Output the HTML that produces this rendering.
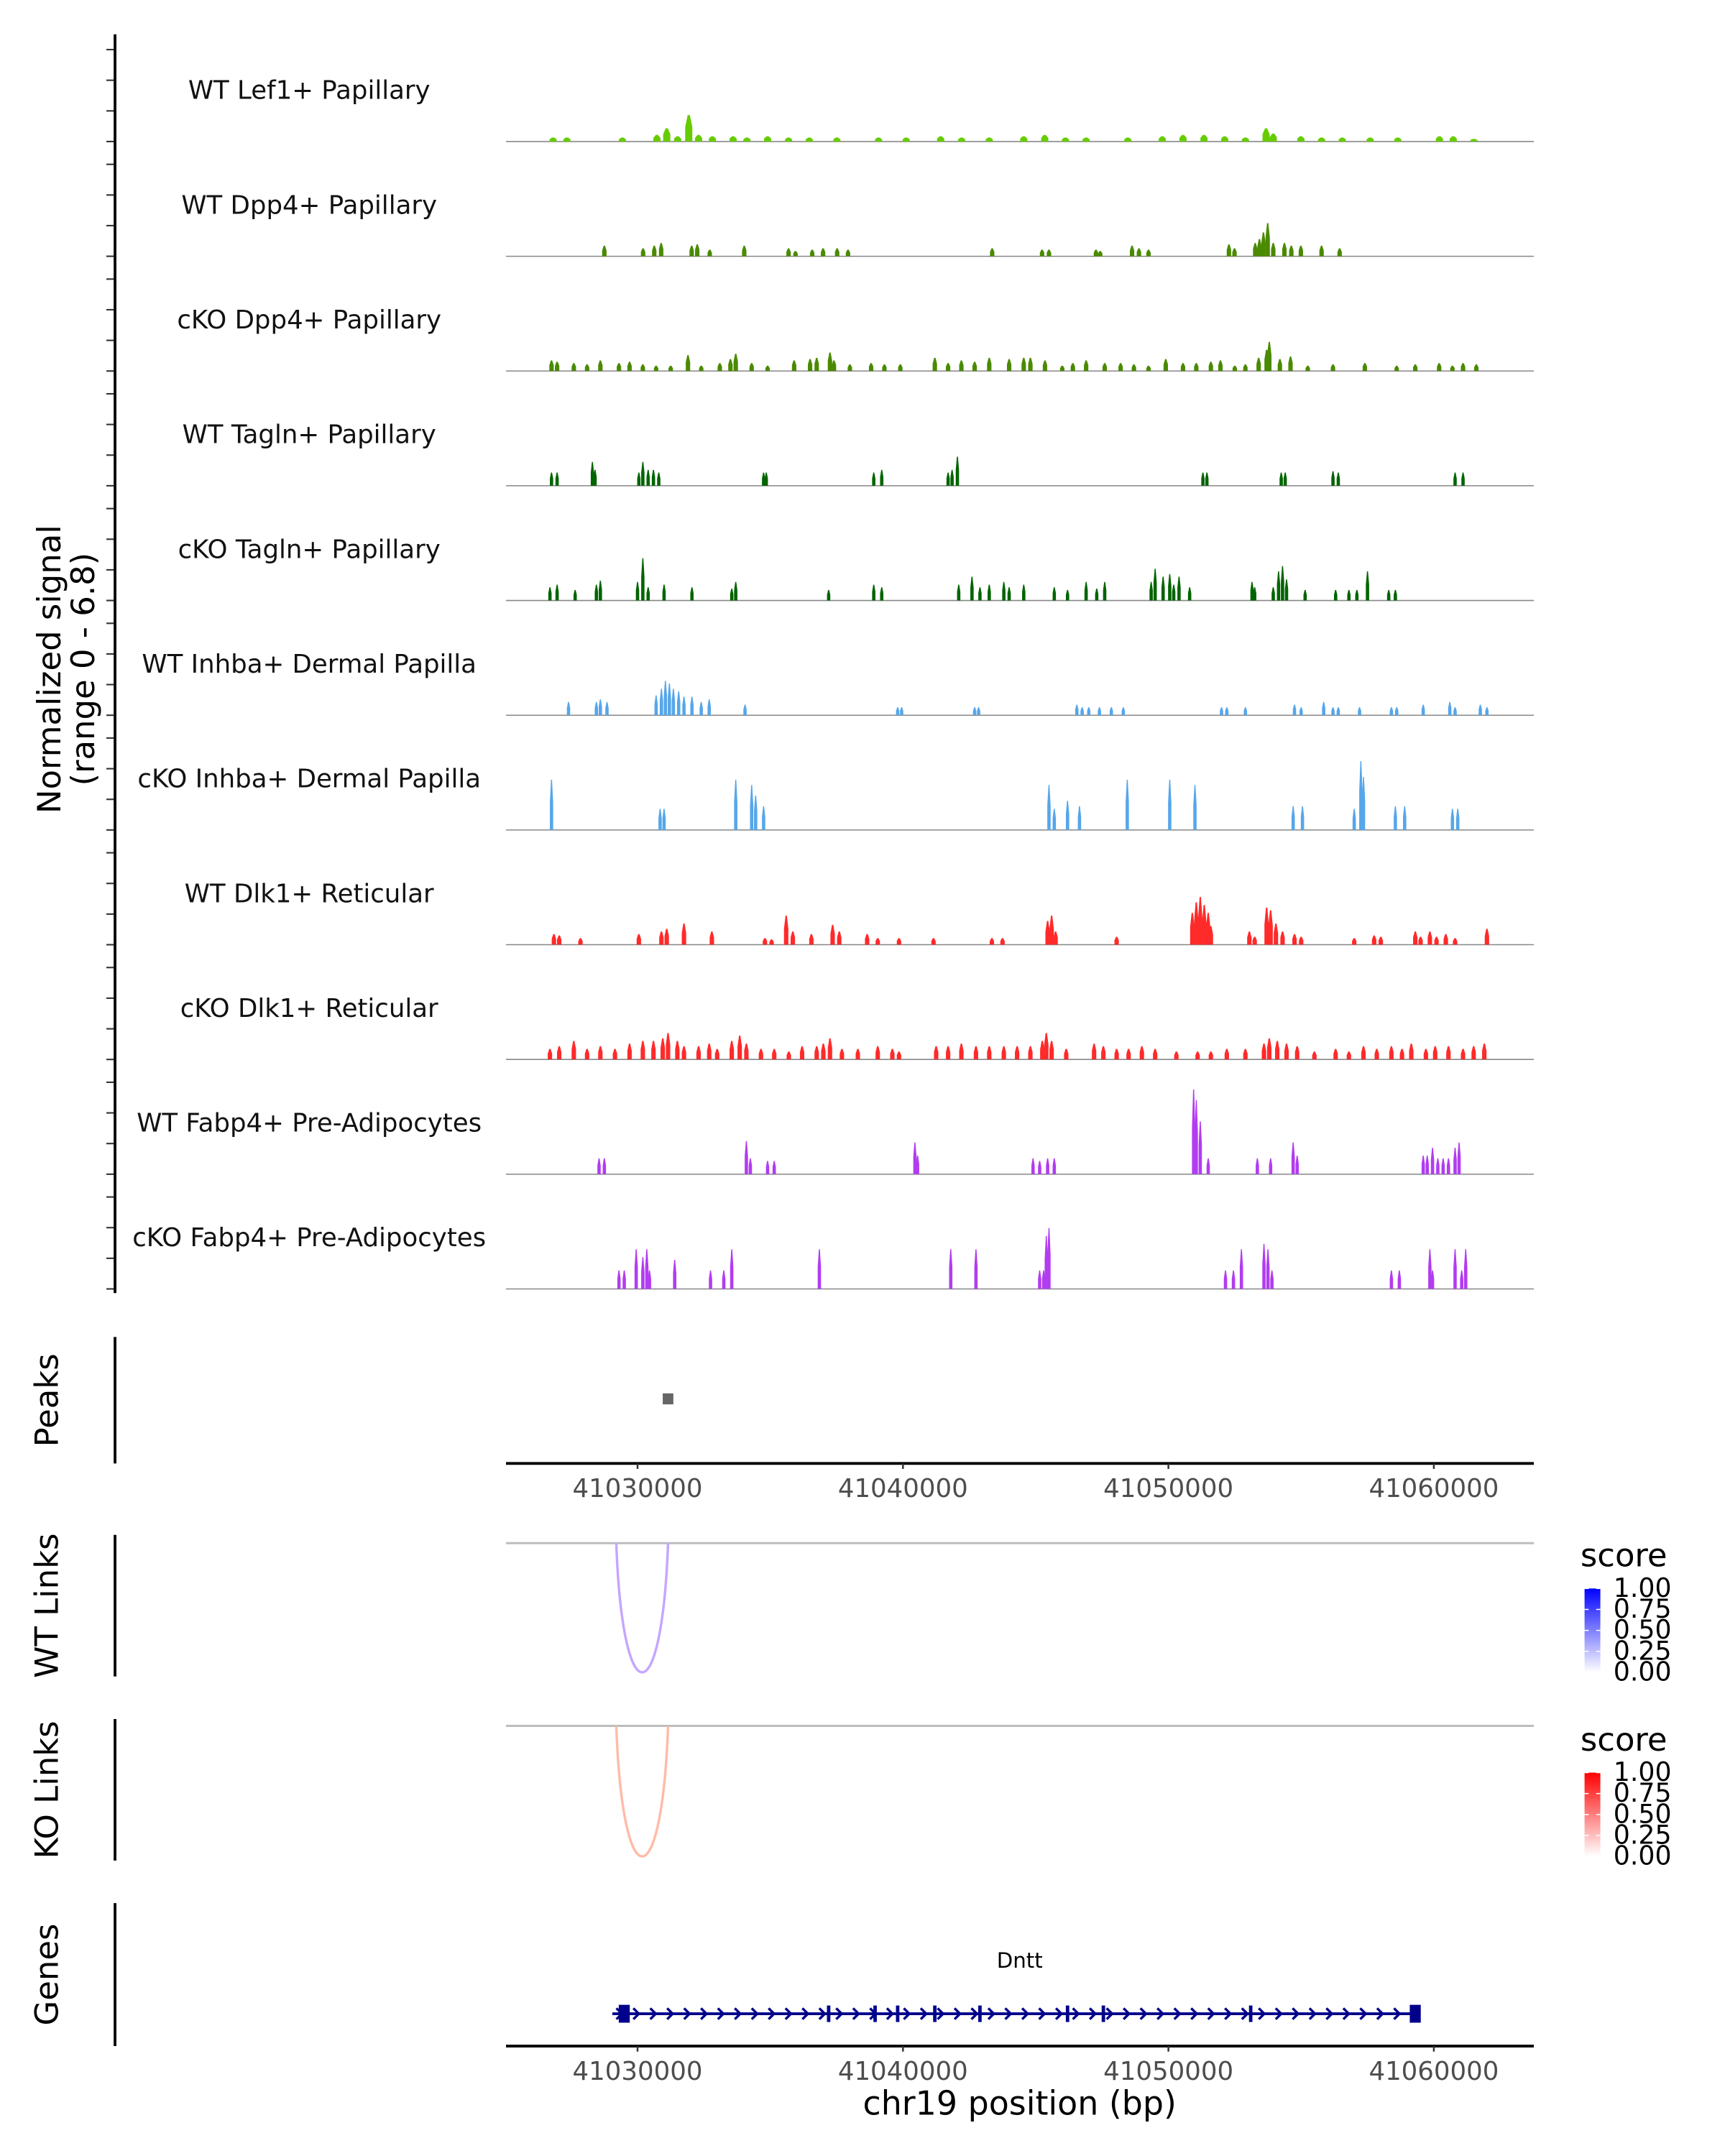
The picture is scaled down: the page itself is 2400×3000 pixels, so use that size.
<!DOCTYPE html>
<html><head><meta charset="utf-8"><style>
html,body{margin:0;padding:0;background:#fff}
svg{display:block}
text{font-family:"DejaVu Sans","Liberation Sans",sans-serif}
</style></head><body>
<svg id="chart" xmlns="http://www.w3.org/2000/svg" width="2400" height="3000" viewBox="0 0 1255.2 1569">
<g id="tracks"></g>
<g id="axes"></g>
</svg>
<script>
// ---- data ----
const trackNames = ["WT Lef1+ Papillary","WT Dpp4+ Papillary","cKO Dpp4+ Papillary","WT Tagln+ Papillary","cKO Tagln+ Papillary","WT Inhba+ Dermal Papilla","cKO Inhba+ Dermal Papilla","WT Dlk1+ Reticular","cKO Dlk1+ Reticular","WT Fabp4+ Pre-Adipocytes","cKO Fabp4+ Pre-Adipocytes"];
const trackColors = ["#66cc00","#4a8a00","#4a8a00","#006400","#006400","#56a6ea","#56a6ea","#ff2a2a","#ff2a2a","#b23cf0","#b23cf0"];
// peak positions (kb past 41,000,000 bp) and signal heights (scaled units, 83 = 6.8)
const pos0=[26.82,27.34,29.43,30.73,31.10,31.51,31.93,32.30,32.82,33.60,34.12,34.90,35.69,36.47,37.51,39.08,40.12,41.42,42.21,43.25,44.55,45.34,46.12,46.90,48.47,49.77,50.55,51.34,52.12,52.90,53.68,53.95,54.99,55.77,56.55,57.60,58.64,60.21,60.73,61.51];
const val0=[3,3,3,5,10,4,20,5,4,4,3,4,3,3,3,3,3,4,3,3,4,5,3,3,3,4,5,5,4,3,10,6,4,3,3,3,3,4,4,2];
const pos1=[28.75,30.21,30.63,30.89,32.04,32.25,32.72,34.02,35.69,35.95,36.58,36.99,37.52,37.93,43.36,45.24,45.50,47.27,47.43,48.63,48.89,49.25,52.28,52.49,53.27,53.43,53.58,53.74,53.95,54.37,54.63,54.99,55.77,56.45];
const val1=[8,6,8,10,8,9,5,8,6,4,5,6,6,5,6,5,5,5,4,8,6,5,9,6,10,13,18,25,10,10,8,8,8,6];
const pos2=[26.76,26.97,27.6,28.1,28.6,29.3,29.7,30.2,30.7,31.25,31.9,32.4,33.1,33.5,33.7,34.3,34.9,35.9,36.5,36.75,37.25,37.4,38.0,38.8,39.3,39.9,41.2,41.7,42.2,42.7,43.25,44.0,44.55,44.8,45.35,46.0,46.4,46.9,47.6,48.2,48.7,49.25,49.9,50.55,51.05,51.6,51.96,52.5,52.9,53.4,53.7,53.8,54.2,54.6,55.25,56.2,57.4,58.6,59.3,60.2,60.7,61.1,61.6];
const val2=[8,7,6,5,8,6,7,5,4,4,12,4,6,9,13,6,4,8,9,10,14,8,5,6,5,5,10,6,8,7,10,9,10,10,8,4,6,8,6,6,5,4,9,6,6,7,8,4,5,10,16,22,9,11,4,5,6,4,5,6,4,6,5];
const pos3=[26.76,26.97,28.3,28.4,30.05,30.2,30.4,30.6,30.8,34.75,34.85,38.9,39.2,41.7,41.85,42.05,51.3,51.45,54.25,54.4,56.2,56.4,60.8,61.1];
const val3=[10,10,18,12,10,18,12,12,10,10,10,10,12,10,12,22,10,10,10,10,11,10,10,10];
const pos4=[26.7,26.97,27.65,28.45,28.6,30.0,30.2,30.4,31.0,32.05,33.55,33.7,37.2,38.9,39.2,42.1,42.6,42.9,43.25,43.8,44.0,44.55,45.7,46.2,46.9,47.3,47.6,49.35,49.5,49.8,50.05,50.2,50.4,50.8,53.15,53.25,53.95,54.15,54.3,54.45,55.15,56.3,56.8,57.1,57.5,58.3,58.55];
const val4=[10,12,8,12,15,14,32,10,12,10,9,14,8,12,10,12,18,10,12,14,10,12,10,8,14,9,14,14,24,18,20,12,18,10,14,10,10,22,26,16,8,8,8,8,22,8,8];
const pos5=[27.4,28.45,28.6,28.85,30.7,30.9,31.05,31.2,31.35,31.55,31.75,32.05,32.4,32.7,34.05,39.8,39.95,42.7,42.85,46.55,46.75,47.0,47.4,47.85,48.3,52.0,52.2,52.9,54.75,55.0,55.85,56.2,56.4,57.2,58.4,58.6,59.6,60.6,60.8,61.75,62.0];
const val5=[10,10,12,10,15,20,26,24,20,18,14,14,10,12,8,6,6,6,6,8,6,6,6,6,6,6,6,6,8,6,10,6,6,6,6,6,8,10,6,8,6];
const pos6=[26.76,30.85,31.0,33.7,34.3,34.45,34.75,45.5,45.7,46.2,46.65,48.45,50.05,51.0,54.7,55.05,57.0,57.25,57.35,58.55,58.9,60.7,60.9];
const val6=[38,16,16,38,34,26,18,34,16,22,18,38,38,34,18,18,16,52,40,18,18,16,16];
const pos7=[26.85,27.05,27.85,30.05,30.9,31.1,31.75,32.8,34.8,35.05,35.6,35.85,36.55,37.35,37.6,38.65,39.05,39.85,41.15,43.35,43.75,45.45,45.6,45.75,48.05,50.9,51.05,51.2,51.35,51.5,51.6,53.05,53.25,53.7,53.85,54.05,54.3,54.75,55.0,57.0,57.75,58.0,59.3,59.5,59.85,60.1,60.45,60.8,62.0];
const val7=[8,7,5,8,10,12,16,10,5,4,22,10,8,15,10,8,5,5,5,5,5,18,22,10,6,24,32,36,30,24,14,10,6,28,26,16,10,8,6,5,7,6,10,6,10,6,8,5,12];
const pos8=[26.7,27.05,27.6,28.1,28.6,29.15,29.7,30.2,30.6,30.95,31.15,31.5,31.75,32.3,32.7,33.0,33.55,33.85,34.1,34.65,35.15,35.7,36.2,36.75,37.0,37.25,37.7,38.3,39.05,39.6,39.85,41.25,41.7,42.2,42.75,43.25,43.8,44.3,44.8,45.25,45.4,45.6,46.15,47.2,47.55,48.05,48.5,49.0,49.5,50.3,51.1,51.6,52.2,52.9,53.6,53.8,54.1,54.45,54.85,55.5,56.3,56.8,57.35,57.85,58.4,58.8,59.15,59.7,60.05,60.55,61.1,61.5,61.9];
const val8=[8,10,14,8,10,8,12,14,14,16,20,14,10,10,12,8,14,18,12,8,8,6,10,10,12,16,8,8,10,8,6,10,10,12,10,10,10,10,10,14,20,14,8,12,10,8,8,10,8,6,6,6,8,8,12,16,14,12,10,6,8,6,10,8,10,8,12,8,10,10,8,10,12];
const pos9=[28.55,28.75,34.1,34.25,34.9,35.15,40.45,40.55,44.9,45.15,45.45,45.7,50.95,51.05,51.2,51.5,53.35,53.85,54.7,54.85,59.6,59.75,59.95,60.15,60.35,60.55,60.8,60.95];
const val9=[12,12,25,12,10,10,24,14,12,10,12,12,64,56,40,12,12,12,24,14,14,14,20,12,12,12,20,24];
const pos10=[29.3,29.5,29.95,30.2,30.35,30.45,31.4,32.75,33.25,33.55,36.85,41.8,42.75,45.15,45.3,45.4,45.5,52.15,52.45,52.75,53.6,53.75,53.9,58.4,58.7,59.85,59.95,60.8,61.05,61.2];
const val10=[14,14,30,24,30,14,22,14,14,30,30,30,30,14,14,40,46,14,14,30,34,30,14,14,14,30,14,30,14,30];
const trackPositions=[pos0,pos1,pos2,pos3,pos4,pos5,pos6,pos7,pos8,pos9,pos10];
const trackValues=[val0,val1,val2,val3,val4,val5,val6,val7,val8,val9,val10];
const xTicks=[30,40,50,60];
const xTickLabels=["41030000","41040000","41050000","41060000"];
const peakRegions=[[30.95,31.35]];
const wtLinks=[[29.2,31.15]];
const koLinks=[[29.2,31.15]];
const geneStart=29.05, geneEnd=59.45;
const exonPos=[29.5,37.2,38.95,39.8,41.2,42.9,46.2,47.55,53.1,59.3];
const scoreTicks=["1.00","0.75","0.50","0.25","0.00"];
// ---- scales ----
const NS="http://www.w3.org/2000/svg";
const X0=368.2,X1=1116.1;
function xs(kb){return 463.9+(kb-30)*36.93/1.912;}
const signalMax=83, trackH=83.5, firstBase=103;
function ys(v){return v/signalMax*80;}
function mk(tag,attrs,parent){const e=document.createElementNS(NS,tag);for(const k in attrs)e.setAttribute(k,attrs[k]);parent.appendChild(e);return e;}
const T=document.getElementById('tracks'), A=document.getElementById('axes');
trackNames.forEach((name,i)=>{
  const base=firstBase+i*trackH;
  const g=mk('g',{},T);
  
  
  const lab=mk('text',{x:225,y:base-31,'text-anchor':'middle','font-size':18.6,fill:'#111'},g);
  lab.textContent=name;
  
  
  const bl=mk('line',{x1:X0,x2:X1,y1:base,y2:base,stroke:'#888','stroke-width':0.8},g);
  
  
  const w=(i==0)?2.6:(i<3||i==7||i==8)?1.6:1.2;
  trackPositions[i].forEach((p,j)=>{
    const x=xs(p),h=ys(trackValues[i][j]);
    const pk=mk('polygon',{points:`${x-w},${base} ${x-w},${base-h*0.55} ${x-w*0.3},${base-h} ${x+w*0.3},${base-h} ${x+w},${base-h*0.55} ${x+w},${base}`,fill:trackColors[i]},g);
    
    
  });
  for(let k=0;k<4;k++){
    const ty=base-k*22.3;
    mk('line',{x1:77.4,x2:83.7,y1:ty,y2:ty,stroke:'#333','stroke-width':1.1},A);
  }
});
// left axis for signal
mk('line',{x1:83.7,x2:83.7,y1:25,y2:941,stroke:'#000','stroke-width':2},A);
const yl=mk('text',{transform:'translate(44,487) rotate(-90)','text-anchor':'middle','font-size':23.5,fill:'#000'},A);


const t1=mk('tspan',{x:0,dy:0},yl);t1.textContent='Normalized signal';
const t2=mk('tspan',{x:0,dy:24.5},yl);t2.textContent='(range 0 - 6.8)';
// side panels
function panel(name,y1,y2,label){
  mk('line',{x1:83.7,x2:83.7,y1:y1,y2:y2,stroke:'#000','stroke-width':2},A);
  const t=mk('text',{transform:`translate(42,${(y1+y2)/2}) rotate(-90)`,'text-anchor':'middle','font-size':23.5,fill:'#000'},A);
  t.textContent=label;
  
  
}
panel('peaks-label',973,1065,'Peaks');
panel('wt-links-label',1117,1220,'WT Links');
panel('ko-links-label',1251,1354,'KO Links');
panel('genes-label',1385,1489,'Genes');
peakRegions.forEach(r=>{
  const pr=mk('rect',{x:xs(r[0]),y:1014,width:xs(r[1])-xs(r[0]),height:8,fill:'#666'},A);
  
  
});
function xAxis(y,nm){
  const g=mk('g',{},A);
  
  
  mk('line',{x1:X0,x2:X1,y1:y,y2:y,stroke:'#000','stroke-width':2},g);
  xTicks.forEach((k,i)=>{
    mk('line',{x1:xs(k),x2:xs(k),y1:y,y2:y+4,stroke:'#333','stroke-width':1.3},g);
    const t=mk('text',{x:xs(k),y:y+24.5,'text-anchor':'middle','font-size':18.6,fill:'#4d4d4d'},g);
    t.textContent=xTickLabels[i];
  });
}
xAxis(1065,'x-axis-top');
xAxis(1489,'x-axis-bottom');
const xt=mk('text',{x:742,y:1539,'text-anchor':'middle','font-size':24,fill:'#000'},A);
xt.textContent='chr19 position (bp)';


function links(arr,top,bottom,color,nm){
  mk('line',{x1:X0,x2:X1,y1:top,y2:top,stroke:'#bdbdbd','stroke-width':1.6},A);
  arr.forEach(l=>{
    const a=xs(l[0]),b=xs(l[1]),c=(bottom-0.25*top)/0.75;
    const p=mk('path',{d:`M${a},${top} C${a+(b-a)*0.12},${c} ${b-(b-a)*0.12},${c} ${b},${top}`,fill:'none',stroke:color,'stroke-width':1.8},A);
    
    
  });
}
links(wtLinks,1123,1217,'#c5a6ff','wt-link-arc');
links(koLinks,1256,1351,'#ffbba8','ko-link-arc');
function legend(y,c,id,nm){
  const g=mk('g',{},A);
  
  
  const d=mk('defs',{},g);
  const lg=mk('linearGradient',{id:id,x1:0,y1:1,x2:0,y2:0},d);
  mk('stop',{offset:0,'stop-color':'#fff'},lg);
  mk('stop',{offset:1,'stop-color':c},lg);
  const t=mk('text',{x:1150,y:y,'font-size':23.5,fill:'#000'},g);t.textContent='score';
  mk('rect',{x:1153,y:y+16,width:11.5,height:61,fill:`url(#${id})`},g);
  scoreTicks.forEach((s,i)=>{
    const ty=y+16+i*15.25;
    mk('line',{x1:1153,x2:1156,y1:ty,y2:ty,stroke:'#fff','stroke-width':0.8},g);
    mk('line',{x1:1161.5,x2:1164.5,y1:ty,y2:ty,stroke:'#fff','stroke-width':0.8},g);
    const tt=mk('text',{x:1174,y:ty+6,'font-size':19,fill:'#000'},g);tt.textContent=s;
  });
}
legend(1140,'#0000ff','gb','wt-score-legend');
legend(1274,'#ff0000','gr','ko-score-legend');
// gene
const gg=mk('g',{},A);


const gy=2802/1.912;
const gt=mk('text',{x:742,y:1432,'text-anchor':'middle','font-size':15.3,fill:'#000'},gg);gt.textContent='Dntt';
mk('line',{x1:xs(geneStart),x2:xs(geneEnd),y1:gy,y2:gy,stroke:'#00008b','stroke-width':2},gg);
for(let x=xs(geneStart)+6;x<xs(geneEnd)-4;x+=12.3){
  mk('polyline',{points:`${x-3},${gy-4} ${x+1},${gy} ${x-3},${gy+4}`,fill:'none',stroke:'#00008b','stroke-width':1.8},gg);
}
exonPos.forEach((p,i)=>{
  const w=(i==0||i==exonPos.length-1)?8:2.5;
  const h=(i==0||i==exonPos.length-1)?13:12;
  mk('rect',{x:xs(p)-w/2,y:gy-h/2,width:w,height:h,fill:'#00008b'},gg);
});
</script>
</body></html>
